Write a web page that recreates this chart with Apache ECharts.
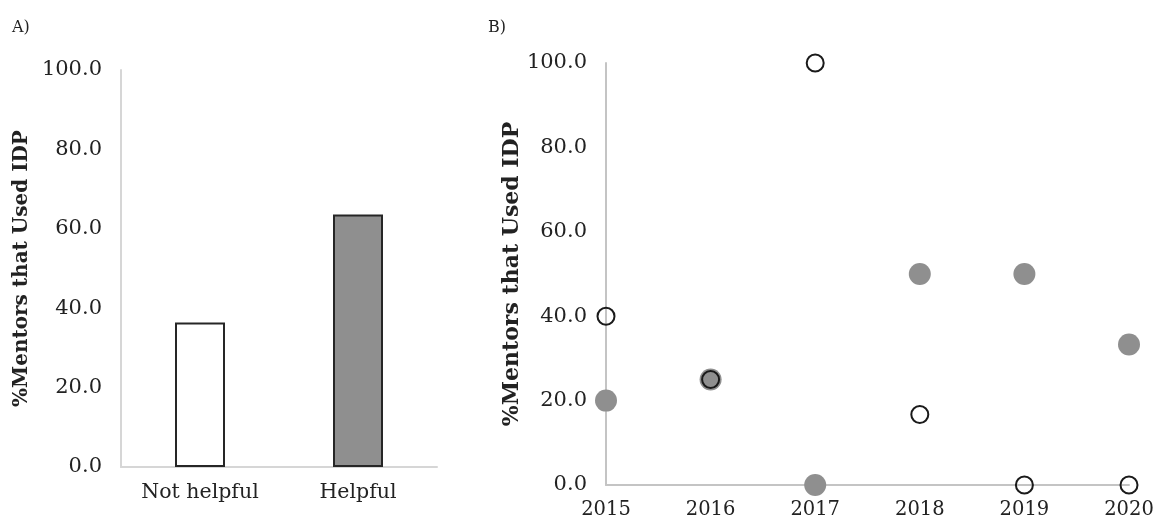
<!DOCTYPE html>
<html>
<head>
<meta charset="utf-8">
<script src="https://cdn.jsdelivr.net/npm/echarts@6/dist/echarts.min.js"></script>
<style>
html,body{margin:0;padding:0;background:#fff;}
#c{width:1160px;height:523px;}
</style>
</head>
<body>
<div id="c"></div>
<script>
// Panel A data
const barCategories = ['Not helpful', 'Helpful'];
const barValues = [36.4, 63.6];
// Panel B data
const years = [2015, 2016, 2017, 2018, 2019, 2020];
const notHelpfulByYear = [40, 25, 100, 16.7, 0, 0];
const helpfulByYear = [20, 25, 0, 50, 50, 33.3];
const yTicks = { min: 0, max: 100, interval: 20 };
const axisTitle = '%Mentors that Used IDP';

const serif = 'DejaVu Serif';
const chart = echarts.init(document.getElementById('c'), null, {renderer: 'canvas'});

const fmt = v => Number(v).toFixed(1);

chart.setOption({
  backgroundColor: '#ffffff',
  animation: false,
  graphic: [
    {type: 'text', left: 12, top: 20, style: {text: 'A)', font: '16px "DejaVu Serif"', fill: '#222'}},
    {type: 'text', left: 488, top: 20, style: {text: 'B)', font: '16px "DejaVu Serif"', fill: '#222'}}
  ],
  grid: [
    {left: 121, top: 70, width: 316, height: 397, containLabel: false},
    {left: 606, top: 63, width: 523, height: 422, containLabel: false}
  ],
  xAxis: [
    {
      gridIndex: 0, type: 'category', data: barCategories,
      axisLine: {lineStyle: {color: '#d6d6d6', width: 2}},
      axisTick: {show: false},
      axisLabel: {color: '#222', fontFamily: serif, fontSize: 20.5, margin: 15}
    },
    {
      gridIndex: 1, type: 'value', min: 2015, max: 2020, interval: 1,
      splitLine: {show: false},
      axisLine: {onZero: false, lineStyle: {color: '#c4c4c4', width: 2}},
      axisTick: {show: false},
      axisLabel: {color: '#222', fontFamily: serif, fontSize: 19.5, margin: 15, formatter: v => String(v)}
    }
  ],
  yAxis: [
    {
      gridIndex: 0, type: 'value', min: yTicks.min, max: yTicks.max, interval: yTicks.interval,
      splitLine: {show: false},
      axisLine: {show: true, lineStyle: {color: '#d6d6d6', width: 2}},
      axisTick: {show: false},
      axisLabel: {color: '#222', fontFamily: serif, fontSize: 21, margin: 19, formatter: fmt},
      name: axisTitle, nameLocation: 'middle', nameRotate: 90, nameGap: 89,
      nameTextStyle: {color: '#222', fontFamily: serif, fontWeight: 'bold', fontSize: 20}
    },
    {
      gridIndex: 1, type: 'value', min: yTicks.min, max: yTicks.max, interval: yTicks.interval,
      splitLine: {show: false},
      axisLine: {show: true, onZero: false, lineStyle: {color: '#c4c4c4', width: 2}},
      axisTick: {show: false},
      axisLabel: {color: '#222', fontFamily: serif, fontSize: 21, margin: 19, formatter: fmt},
      name: axisTitle, nameLocation: 'middle', nameRotate: 90, nameGap: 83,
      nameTextStyle: {color: '#222', fontFamily: serif, fontWeight: 'bold', fontSize: 22}
    }
  ],
  series: [
    {
      type: 'bar', xAxisIndex: 0, yAxisIndex: 0, barWidth: 50,
      data: barValues.map((v, i) => ({
        value: v,
        itemStyle: {color: i === 0 ? '#ffffff' : '#8f8f8f', borderColor: '#262626', borderWidth: 2}
      }))
    },
    {
      type: 'scatter', xAxisIndex: 1, yAxisIndex: 1, clip: false,
      symbol: 'circle', symbolSize: 22,
      itemStyle: {color: '#8f8f8f', opacity: 1},
      data: years.map((y, i) => [y, helpfulByYear[i]]),
      z: 2
    },
    {
      type: 'scatter', xAxisIndex: 1, yAxisIndex: 1, clip: false,
      symbol: 'circle', symbolSize: 17,
      itemStyle: {color: 'rgba(0,0,0,0)', borderColor: '#1a1a1a', borderWidth: 2, opacity: 1},
      data: years.map((y, i) => [y, notHelpfulByYear[i]]),
      z: 3
    }
  ]
});
</script>
</body>
</html>
